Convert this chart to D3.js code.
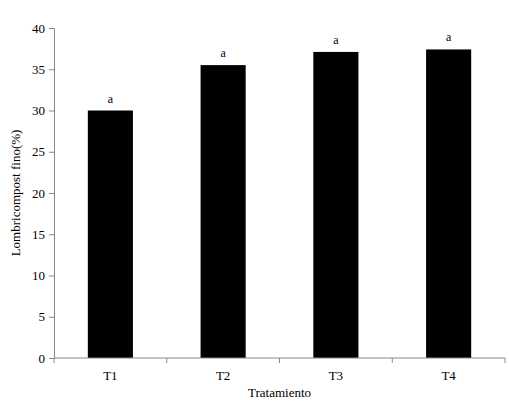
<!DOCTYPE html><html><head><meta charset="utf-8"><script src="https://d3js.org/d3.v7.min.js"></script>
<style>body{margin:0;background:#fff}text{font-family:"Liberation Serif",serif;fill:#000}</style></head><body><svg width="509" height="409"></svg>
<script>
const categories=["T1","T2","T3","T4"];
const values=[30.0,35.5,37.1,37.4];
const letters=["a","a","a","a"];
const yTicks=[0,5,10,15,20,25,30,35,40];
const svg=d3.select("svg");
const m={l:54,r:4,t:28,b:51};
const W=509,H=409;
const x=d3.scaleBand().domain(categories).range([m.l,W-m.r]).paddingInner(0.6).paddingOuter(0.3);
const y=d3.scaleLinear().domain([0,40]).range([H-m.b,m.t]);
svg.selectAll("rect").data(values).join("rect").attr("x",(d,i)=>x(categories[i])).attr("width",x.bandwidth()).attr("y",d=>y(d)).attr("height",d=>y(0)-y(d)).attr("fill","#000");
svg.selectAll("text.lab").data(values).join("text").attr("class","lab").attr("x",(d,i)=>x(categories[i])+x.bandwidth()/2).attr("y",d=>y(d)-8).attr("text-anchor","middle").attr("font-size",12).text((d,i)=>letters[i]);
const ya=svg.append("g").attr("transform",`translate(${m.l},0)`).call(d3.axisLeft(y).tickValues(yTicks).tickSize(5).tickPadding(4));
ya.selectAll("text").attr("font-size",13).style("font-family","Liberation Serif");
const step=(W-m.r-m.l)/4;
const xa=svg.append("g").attr("transform",`translate(0,${y(0)})`);
xa.append("line").attr("x1",m.l).attr("x2",W-m.r).attr("stroke","#888");
xa.selectAll("line.t").data(d3.range(5)).join("line").attr("class","t").attr("x1",i=>m.l+i*step).attr("x2",i=>m.l+i*step).attr("y2",5).attr("stroke","#888");
xa.selectAll("text").data(categories).join("text").attr("x",d=>x(d)+x.bandwidth()/2).attr("y",22).attr("text-anchor","middle").attr("font-size",13).text(d=>d);
ya.selectAll("path,line").attr("stroke","#888");
svg.append("text").attr("x",(m.l+W-m.r)/2).attr("y",397).attr("text-anchor","middle").attr("font-size",13).text("Tratamiento");
svg.append("text").attr("transform",`translate(20,${(m.t+H-m.b)/2}) rotate(-90)`).attr("text-anchor","middle").attr("font-size",13).text("Lombricompost fino(%)");
</script></body></html>
